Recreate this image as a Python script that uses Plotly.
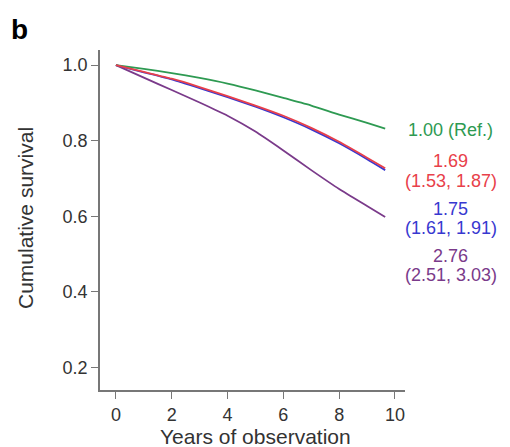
import plotly.graph_objects as go

years = [0, 1, 2, 3, 4, 5, 6, 7, 8, 9, 9.65]
green_vals = [1.0, 0.990, 0.979, 0.966, 0.951, 0.933, 0.913, 0.893, 0.869, 0.847, 0.832]
red_vals = [1.0, 0.982, 0.964, 0.942, 0.918, 0.893, 0.866, 0.834, 0.797, 0.755, 0.727]
blue_vals = [1.0, 0.981, 0.962, 0.939, 0.915, 0.890, 0.862, 0.830, 0.793, 0.751, 0.722]
purple_vals = [1.0, 0.967, 0.934, 0.901, 0.866, 0.824, 0.774, 0.722, 0.672, 0.627, 0.598]

x_ticks = [0, 2, 4, 6, 8, 10]
y_ticks = [0.2, 0.4, 0.6, 0.8, 1.0]
y_ticklabels = ["0.2", "0.4", "0.6", "0.8", "1.0"]

GREEN = "#2e9a52"
RED = "#e8404a"
BLUE = "#3838d0"
PURPLE = "#7a3a8a"

label_lines = [
    ("1.00 (Ref.)", GREEN, 130),
    ("1.69", RED, 161),
    ("(1.53, 1.87)", RED, 181),
    ("1.75", BLUE, 209),
    ("(1.61, 1.91)", BLUE, 228),
    ("2.76", PURPLE, 256),
    ("(2.51, 3.03)", PURPLE, 275),
]

fig = go.Figure()
for vals, col in [(purple_vals, PURPLE), (blue_vals, BLUE), (green_vals, GREEN), (red_vals, RED)]:
    fig.add_trace(go.Scatter(x=years, y=vals, mode="lines",
                             line=dict(color=col, width=1.8, shape="spline", smoothing=0.5),
                             showlegend=False))

# page body has an 8px margin; compensate so page pixels match the reference
OFF = 8
W, H = 510 - OFF, 447 - OFF
ml, mr, mt, mb = 100 - OFF, 105, 50 - OFF, 57
pw, ph = W - ml - mr, H - mt - mb


def px(xp):
    return (xp - OFF - ml) / pw


def py(yp):
    return 1 - (yp - OFF - mt) / ph


FONT = "Liberation Sans, Arial"

for text, col, ypix in label_lines:
    fig.add_annotation(text=text, xref="paper", yref="paper",
                       x=px(451), y=py(ypix),
                       xanchor="center", yanchor="middle", showarrow=False,
                       font=dict(family=FONT, size=18, color=col))

fig.add_annotation(text="<b>b</b>", xref="paper", yref="paper",
                   x=px(9), y=py(30), xanchor="left", yanchor="middle", showarrow=False,
                   font=dict(family=FONT, size=28, color="black"))
fig.add_annotation(text="<b>c</b>", xref="paper", yref="paper",
                   x=px(9), y=py(457), xanchor="left", yanchor="middle", showarrow=False,
                   font=dict(family=FONT, size=28, color="black"))
fig.add_annotation(text="Years of observation", xref="paper", yref="paper",
                   x=px(255), y=py(436), xanchor="center", yanchor="middle", showarrow=False,
                   font=dict(family=FONT, size=21, color="#333"))
fig.add_annotation(text="Cumulative survival", xref="paper", yref="paper",
                   x=px(25), y=py(218), xanchor="center", yanchor="middle", showarrow=False,
                   textangle=-90, font=dict(family=FONT, size=21, color="#333"))

fig.update_layout(
    width=W, height=H,
    margin=dict(l=ml, r=mr, t=mt, b=mb, autoexpand=False),
    plot_bgcolor="white", paper_bgcolor="white",
    font=dict(family=FONT, size=18, color="#333"),
    xaxis=dict(range=[-0.57, 10.36], tickvals=x_ticks, ticks="outside", ticklen=7,
               tickcolor="#777", tickwidth=1.3, showline=True, linecolor="#777", linewidth=1.8,
               showgrid=False, zeroline=False, automargin=False,
               tickfont=dict(family=FONT, size=18, color="#333")),
    yaxis=dict(range=[0.14, 1.04], tickvals=y_ticks, ticktext=y_ticklabels,
               ticks="outside", ticklen=7, tickcolor="#777", tickwidth=1.3, showline=True,
               linecolor="#777", linewidth=1.8, showgrid=False, zeroline=False,
               automargin=False, tickfont=dict(family=FONT, size=18, color="#333")),
)

fig.write_html("out.html")
